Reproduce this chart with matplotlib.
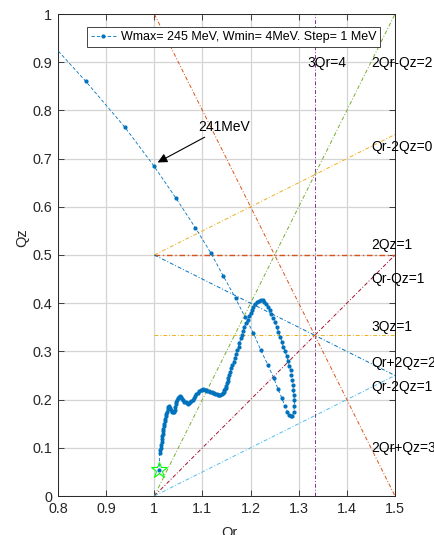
import numpy as np
import matplotlib.pyplot as plt

plt.rcParams['font.family'] = ['Liberation Sans', 'DejaVu Sans']
plt.rcParams['font.size'] = 9

# working point path, from Wmax (245 MeV) down to Wmin (4 MeV)
qr = [0.640, 0.758, 0.858, 0.939, 0.999, 1.045, 1.085, 1.117, 1.143, 1.169,
      1.188, 1.206, 1.221, 1.236, 1.248, 1.257, 1.265, 1.271, 1.276, 1.279,
      1.283, 1.287, 1.290, 1.291, 1.291, 1.290, 1.289, 1.288, 1.287, 1.285,
      1.283, 1.280, 1.278, 1.275, 1.272, 1.268, 1.265, 1.262, 1.258, 1.255,
      1.251, 1.247, 1.243, 1.240, 1.236, 1.232, 1.228, 1.225, 1.221, 1.218,
      1.214, 1.210, 1.206, 1.203, 1.200, 1.197, 1.194, 1.190, 1.187, 1.185,
      1.182, 1.180, 1.177, 1.175, 1.172, 1.170, 1.167, 1.165, 1.162, 1.160,
      1.158, 1.156, 1.154, 1.153, 1.151, 1.150, 1.148, 1.147, 1.145, 1.144,
      1.142, 1.140, 1.137, 1.135, 1.132, 1.130, 1.127, 1.125, 1.122, 1.119,
      1.116, 1.113, 1.110, 1.108, 1.105, 1.102, 1.099, 1.096, 1.093, 1.090,
      1.087, 1.085, 1.082, 1.080, 1.077, 1.075, 1.072, 1.070, 1.067, 1.065,
      1.062, 1.060, 1.058, 1.056, 1.054, 1.052, 1.050, 1.048, 1.046, 1.045,
      1.043, 1.042, 1.040, 1.039, 1.037, 1.035, 1.033, 1.031, 1.029, 1.028,
      1.026, 1.025, 1.024, 1.023, 1.022, 1.021, 1.020, 1.019, 1.018, 1.018,
      1.017, 1.016, 1.015, 1.014, 1.013, 1.012, 1.011, 1.010]
qz = [1.100, 0.970, 0.860, 0.765, 0.685, 0.618, 0.557, 0.505, 0.457, 0.410,
      0.372, 0.338, 0.303, 0.272, 0.245, 0.222, 0.203, 0.187, 0.175, 0.168,
      0.165, 0.167, 0.175, 0.187, 0.199, 0.210, 0.220, 0.231, 0.241, 0.251,
      0.261, 0.270, 0.280, 0.290, 0.300, 0.310, 0.320, 0.330, 0.340, 0.350,
      0.360, 0.370, 0.378, 0.385, 0.392, 0.398, 0.403, 0.407, 0.407, 0.405,
      0.402, 0.398, 0.392, 0.386, 0.380, 0.373, 0.366, 0.358, 0.350, 0.343,
      0.335, 0.327, 0.318, 0.310, 0.302, 0.294, 0.287, 0.279, 0.272, 0.265,
      0.258, 0.251, 0.245, 0.239, 0.234, 0.229, 0.225, 0.222, 0.219, 0.216,
      0.213, 0.211, 0.210, 0.209, 0.210, 0.211, 0.212, 0.213, 0.214, 0.215,
      0.216, 0.217, 0.218, 0.219, 0.220, 0.221, 0.220, 0.219, 0.217, 0.214,
      0.211, 0.208, 0.204, 0.200, 0.197, 0.194, 0.192, 0.191, 0.192, 0.194,
      0.196, 0.199, 0.202, 0.205, 0.207, 0.206, 0.203, 0.199, 0.195, 0.190,
      0.184, 0.179, 0.175, 0.174, 0.175, 0.179, 0.183, 0.186, 0.184, 0.180,
      0.175, 0.170, 0.165, 0.160, 0.155, 0.150, 0.145, 0.140, 0.135, 0.129,
      0.124, 0.118, 0.112, 0.106, 0.100, 0.095, 0.089, 0.054]

# resonance lines: label, Qr ends, Qz ends, colour, label position
res_names = ['3Qr=4', '2Qr-Qz=2', 'Qr-2Qz=0', '2Qz=1', 'Qr-Qz=1',
             '3Qz=1', 'Qr+2Qz=2', 'Qr-2Qz=1', '2Qr+Qz=3']
res_qr = [(4/3, 4/3), (1.0, 1.5), (1.0, 1.5), (1.0, 1.5), (1.0, 1.5),
          (1.0, 1.5), (1.0, 1.5), (1.0, 1.5), (1.0, 1.5)]
res_qz = [(0.0, 1.0), (0.0, 1.0), (0.5, 0.75), (0.5, 0.5), (0.0, 0.5),
          (1/3, 1/3), (0.5, 0.25), (0.0, 0.25), (1.0, 0.0)]
res_col = [(0.494, 0.184, 0.556), (0.466, 0.674, 0.188), (0.929, 0.694, 0.125),
           (0.85, 0.325, 0.098), (0.635, 0.078, 0.184), (0.929, 0.694, 0.125),
           (0, 0.447, 0.741), (0.301, 0.745, 0.933), (0.85, 0.325, 0.098)]
lab_qr = [1.318, 1.451, 1.451, 1.451, 1.451, 1.451, 1.451, 1.451, 1.451]
lab_qz = [0.899, 0.899, 0.725, 0.521, 0.450, 0.350, 0.275, 0.226, 0.099]

fig = plt.figure(figsize=(4.35, 5.35), dpi=100)
ax = fig.add_axes([58/435, 39/535, 337/435, 482/535])

blue = (0, 0.447, 0.741)
ax.plot(qr, qz, color=blue, lw=0.6, dashes=(4, 2.5), marker='.', ms=4,
        label='Wmax= 245 MeV, Wmin= 4MeV. Step= 1 MeV', zorder=3)

for name, x, y, c, tx, ty in zip(res_names, res_qr, res_qz, res_col, lab_qr, lab_qz):
    lw = 1.0 if name == '2Qz=1' else 0.7
    ax.plot(x, y, color=c, lw=lw, dashes=(4, 2, 1, 2), zorder=2)
    ax.text(tx, ty, name, ha='left', va='center', fontsize=10, zorder=4)

# starting point
ax.plot(qr[-1], qz[-1], '*', ms=12, mfc='none', mec=(0, 1, 0), mew=0.8, zorder=5)

ax.annotate('241MeV', xy=(qr[4] + 0.008, qz[4] + 0.007), xytext=(1.091, 0.766),
            ha='left', va='center', fontsize=10,
            arrowprops=dict(arrowstyle='-|>', color='k', lw=0.8,
                            mutation_scale=14, shrinkA=1, shrinkB=0))

ax.set_xlim(0.8, 1.5)
ax.set_ylim(0, 1)
ax.set_xticks(np.arange(0.8, 1.51, 0.1))
ax.set_xticklabels(['0.8', '0.9', '1', '1.1', '1.2', '1.3', '1.4', '1.5'])
ax.set_yticks(np.arange(0, 1.01, 0.1))
ax.set_yticklabels(['0', '0.1', '0.2', '0.3', '0.4', '0.5', '0.6', '0.7', '0.8', '0.9', '1'])
ax.grid(True, color='0.83', lw=0.9)
ax.set_axisbelow(True)
ax.tick_params(direction='in', top=True, right=True, length=4, width=0.6,
               labelsize=10.4, colors='0.15', pad=4)
for sp in ax.spines.values():
    sp.set_color('0.15')
    sp.set_linewidth(0.7)

ax.set_xlabel('Qr', fontsize=10.5, color='0.15')
ax.xaxis.set_label_coords(0.51, -0.062)
ax.set_ylabel('Qz', fontsize=10.5, color='0.15')
ax.yaxis.set_label_coords(-0.085, 0.537)

leg = ax.legend(loc='upper left', bbox_to_anchor=(0.086, 0.972), fontsize=9,
                fancybox=False, framealpha=1, edgecolor='0.15',
                borderpad=0.3, handlelength=2.0, handletextpad=0.4,
                borderaxespad=0)
leg.get_frame().set_linewidth(0.6)

fig.savefig('out.png', dpi=100)
